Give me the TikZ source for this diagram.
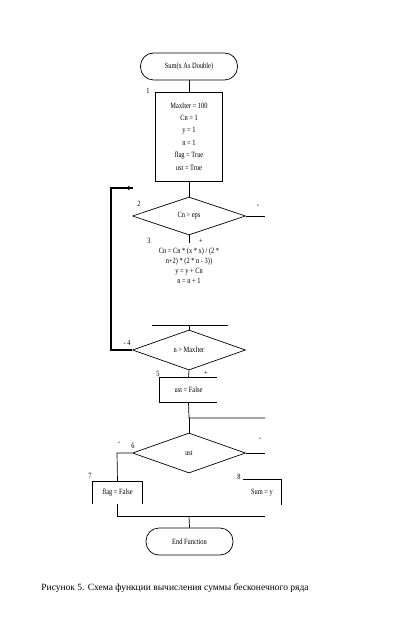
\documentclass[tikz,border=0pt]{standalone}
\usepackage{fontspec}
\setmainfont{Liberation Serif}
\newfontfamily\dfont{Liberation Serif}[FakeStretch=0.8]
\usetikzlibrary{shapes.geometric,arrows.meta}
\begin{document}
\begin{tikzpicture}[x=1pt,y=-1pt,
  every node/.style={font=\dfont\fontsize{8}{10}\selectfont, inner sep=0pt},
  ln/.style={line width=0.7pt},
  term/.style={draw, ln, rectangle, rounded corners=13pt, minimum width=#1, minimum height=27pt},
  procbox/.style={draw, ln, rectangle, minimum width=67pt, minimum height=89pt, align=center},
  decis/.style={draw, ln, diamond, aspect=3, minimum width=113pt, minimum height=#1},
  openbox/.style={rectangle, align=center},
  lbl/.style={font=\dfont\fontsize{8}{10}\selectfont}
]
\useasboundingbox (0,0) rectangle (403,620);
% start
\node[term=97pt] (start) at (189,66.5) {Sum(x As Double)};
\node[procbox, font=\dfont\fontsize{8}{12.4}\selectfont] (b1) at (189,136.5) {MaxIter = 100\\Cn = 1\\y = 1\\n = 1\\flag = True\\ust = True};
\node[decis=38pt] (d2) at (189,216) {Cn > eps};
\coordinate (d2r) at (265,216);
\node[openbox, font=\dfont\fontsize{8}{10}\selectfont, minimum height=42pt] (b3) at (189,265.5) {Cn = Cn * (x * x) / (2 *\\n+2) * (2 * n - 3))\\y = y + Cn\\n = n + 1};
\coordinate (b3l) at (152,325);
\coordinate (b3r) at (228,325);
\coordinate (b3b) at (189,325);
\node[decis=40pt] (d4) at (189,350) {n > MaxIter};
\coordinate (lp1) at (111,350);
\coordinate (lp2) at (111,188);
\coordinate (lp3) at (133,188);
\node[openbox, minimum width=57pt, minimum height=24pt] (b5) at (188.5,390) {ust = False};
\coordinate (j5) at (189,418);
\coordinate (j5r) at (265,418);
\node[decis=40pt] (d6) at (189,453) {ust};
\coordinate (d6l) at (117,453);
\coordinate (d6r) at (265,453);
\node[openbox, minimum width=49pt, minimum height=22pt] (b7) at (117.5,493) {flag = False};
\node[openbox, minimum width=38pt, minimum height=25pt] (b8) at (262,492.5) {Sum = y};
\coordinate (j7l) at (117.5,516);
\coordinate (j7) at (189,516);
\coordinate (j7r) at (265,516);
\node[term=87pt] (end) at (189.5,541.5) {End Function};
% connectors
\draw[ln] (start) -- (b1);
\draw[ln] (b1) -- (d2);
\draw[ln] (d2.east) -- (d2r);
\draw[ln] (d2.south) -- (189,243);
\draw[ln] (b3l) -- (b3r);
\draw[ln] (b3b) -- (d4.north);
\draw[line width=1.3pt] (d4.west) -- (lp1) -- (lp2) -- (lp3);
\draw[line width=1.3pt,-{Latex[length=5pt,width=4.5pt]}] (lp2) -- (lp3);
\draw[ln] (d4.south) -- (b5.north);
\draw[ln] (b5.north east) -- (b5.north west) -- (b5.south west) -- (b5.south east);
\draw[ln] (b5.south) -- (j5) -- (j5r);
\draw[ln] (j5) -- (d6.north);
\draw[ln] (d6.west) -- (d6l) -- (b7.north);
\draw[ln] (b7.south west) -- (b7.north west) -- (b7.north east) -- (b7.south east);
\draw[ln] (d6.east) -- (d6r);
\draw[ln] (b8.north west) -- (b8.north east) -- (b8.south east);
\draw[ln] (b7.south) -- (j7l) -- (j7r);
\draw[ln] (j7) -- (end.north);
% labels
\node[lbl] (l1) at (148,91) {1};
\node[lbl] (l2) at (139,204) {2};
\node[lbl] (l2m) at (258,206) {-};
\node[lbl] (l3) at (149,241) {3};
\node[lbl] (l3p) at (201,241) {+};
\node[lbl] (l4) at (127,343) {- 4};
\node[lbl] (l5) at (158,374) {5};
\node[lbl] (l5p) at (206,373) {+};
\node[lbl] (l6m) at (119,443) {-};
\node[lbl] (l6) at (133,446) {6};
\node[lbl] (l6p) at (260,439) {-};
\node[lbl] (l7) at (90,476) {7};
\node[lbl] (l8) at (239,477) {8};
% caption
\node[font=\rmfamily\fontsize{9.5}{11}\selectfont] (cap) at (175,588) {Рисунок 5. Схема функции вычисления суммы бесконечного ряда};
\end{tikzpicture}
\end{document}
